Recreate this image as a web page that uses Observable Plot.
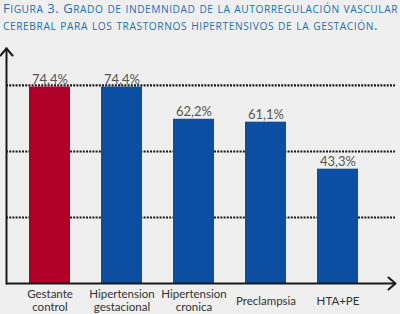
<!DOCTYPE html>
<html>
<head>
<meta charset="utf-8">
<script src="https://cdn.jsdelivr.net/npm/d3@7"></script>
<script src="https://cdn.jsdelivr.net/npm/@observablehq/plot@0.6"></script>
<style>
  html, body { margin: 0; padding: 0; background: #efefef; width: 400px; height: 314px; overflow: hidden; }
  #title { height: 40px; position: relative; font-family: "Open Sans", sans-serif; color: #2270b8; font-size: 13px; }
  #title div { position: absolute; left: 3px; white-space: nowrap; line-height: 1; }
  #title .sc { font-size: 10.2px; text-transform: uppercase; }
  #chart svg { display: block; }
</style>
</head>
<body>
<div id="title">
  <div id="t1" style="top:2px"></div>
  <div id="t2" style="top:19px"></div>
</div>
<div id="chart"></div>
<script>
const titleLines = ["Figura 3. Grado de indemnidad de la autorregulación vascular", "cerebral para los trastornos hipertensivos de la gestación."];
const categories = ["Gestante\ncontrol", "Hipertension\ngestacional", "Hipertension\ncronica", "Preclampsia", "HTA+PE"];
const values = [74.4, 74.4, 62.2, 61.1, 43.3];
const groups = ["Control", "Trastorno", "Trastorno", "Trastorno", "Trastorno"];
const gridValues = [25, 50, 75];

const data = categories.map((c, i) => ({category: c, value: values[i], group: groups[i]}));
const fmt = v => d3.format(".1f")(v).replace(".", ",") + "%";

// small caps title, fitted to reference widths
function smallCaps(el, text) {
  text.split(/([a-záéíóúñ]+)/).forEach(part => {
    if (!part) return;
    if (/^[a-záéíóúñ]+$/.test(part)) {
      const s = document.createElement("span");
      s.className = "sc";
      s.textContent = part;
      el.append(s);
    } else el.append(document.createTextNode(part));
  });
}
function fit(id, text, target) {
  const el = document.getElementById(id);
  smallCaps(el, text);
  const w = el.getBoundingClientRect().width;
  el.style.letterSpacing = ((target - w) / text.length) + "px";
}
fit("t1", titleLines[0], 395);
fit("t2", titleLines[1], 375);

const chevronUp = {draw(c) { c.moveTo(-6, 7); c.lineTo(0, 0); c.lineTo(6, 7); }};

const plot = Plot.plot({
  width: 400,
  height: 274,
  marginLeft: 6,
  marginRight: 5,
  marginTop: 8,
  marginBottom: 31,
  style: {background: "#efefef", fontFamily: "Lato, sans-serif"},
  x: {domain: categories, range: [13.5, 373.5], paddingInner: 0.43, paddingOuter: 0.215, axis: null},
  y: {domain: [0, 89], axis: null},
  color: {domain: ["Control", "Trastorno"], range: ["#b0002a", "#0b4ea2"]},
  marks: [
    Plot.ruleY(gridValues, {stroke: "#1a1a1a", strokeWidth: 2.2, strokeDasharray: "2,1.2"}),
    Plot.barY(data, {x: "category", y: "value", fill: "group"}),
    Plot.text(data, {x: "category", y: "value", text: d => fmt(d.value), lineAnchor: "bottom", dy: -3, fontSize: 13, fill: "#555"}),
    Plot.text(data, {x: "category", y: 0, text: "category", lineAnchor: "middle", dy: 17, fontSize: 11.5, fill: "#333", lineHeight: 1.15}),
    Plot.ruleY([0], {stroke: "#1a1a1a", strokeWidth: 2}),
    Plot.frame({anchor: "left", stroke: "#1a1a1a", strokeWidth: 2}),
    Plot.vector([0], {frameAnchor: "top-left", anchor: "start", shape: chevronUp, stroke: "#1a1a1a", strokeWidth: 2}),
    Plot.vector([0], {frameAnchor: "bottom-right", anchor: "start", rotate: 90, shape: chevronUp, stroke: "#1a1a1a", strokeWidth: 2})
  ]
});
document.getElementById("chart").append(plot);
</script>
</body>
</html>
